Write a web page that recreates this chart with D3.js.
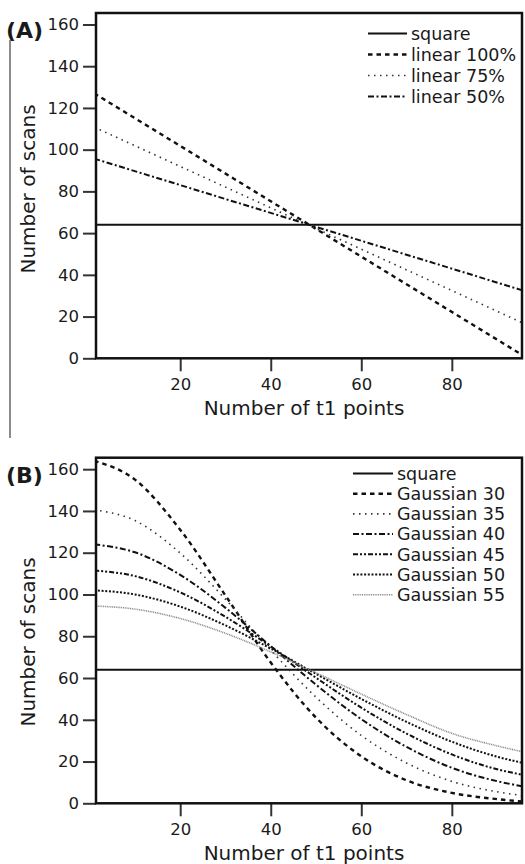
<!DOCTYPE html>
<meta charset="utf-8">
<title>Number of scans vs number of t1 points</title>
<style>

body {
  margin: 0;
  background: #fff;
}

text {
  font-family: "DejaVu Sans", sans-serif;
  fill: #1a1a1a;
}

.frame {
  fill: none;
  stroke: #111;
  stroke-width: 2.5px;
}

.tick line {
  stroke: #333;
  stroke-width: 2px;
}

.curve {
  fill: none;
}

</style>
<body>
<script src="https://d3js.org/d3.v7.min.js"></script>
<script>

// ---- data ----
var xTicks = [20, 40, 60, 80];
var yTicks = [0, 20, 40, 60, 80, 100, 120, 140, 160];

var squareLevel = 64;

// panel A: linear weightings, value at first and last t1 point
var linX = [1, 96];
var lin100 = [127, 1];
var lin75 = [110.8, 16.6];
var lin50 = [95.7, 32.3];

// panel B: gaussian weightings, sampled along t1
var gX = [1, 10, 20, 30, 40, 50, 60, 70, 80, 90, 96];
var g30 = [164, 155, 131, 99.5, 67.4, 41, 22.5, 11, 5, 2, 0.8];
var g35 = [140.5, 135.4, 119.8, 97.7, 73.4, 50.8, 32.5, 19.3, 10.5, 5.5, 3.6];
var g40 = [124, 120.2, 109.4, 93.6, 75.2, 56.8, 40.3, 27, 17, 10.6, 8];
var g45 = [111.5, 108.8, 101, 89.3, 75.1, 60.1, 45.8, 33.4, 23.4, 16.3, 13.5];
var g50 = [102, 100, 94.2, 85.2, 74.1, 62, 50, 39, 29.5, 22.3, 19.2];
var g55 = [94.5, 93, 88.5, 81.4, 72.5, 62.5, 52.3, 42.5, 33.5, 27.5, 24.5];

var namesA = ["square", "linear 100%", "linear 75%", "linear 50%"];
var namesB = ["square", "Gaussian 30", "Gaussian 35", "Gaussian 40", "Gaussian 45", "Gaussian 50", "Gaussian 55"];

// ---- line looks ----
var st = {
  solid:   {stroke: "#111", width: 2,   dash: null},
  dash:    {stroke: "#111", width: 2.4, dash: "4.5 4"},
  dot:     {stroke: "#333", width: 1.6, dash: "1.5 4.5"},
  dashdot: {stroke: "#111", width: 2,   dash: "6 2.5 2 2.5"},
  dashdd:  {stroke: "#111", width: 2,   dash: "5 2 2 2 2 2"},
  dense:   {stroke: "#111", width: 2,   dash: "2 1.7"},
  grey:    {stroke: "#8a8a8a", width: 1.6, dash: "1 0.8"}
};

var width = 525, height = 864;

var svg = d3.select("body").append("svg")
    .attr("width", width)
    .attr("height", height);

// thin line left of the figure
svg.append("line")
    .attr("x1", 10).attr("x2", 10)
    .attr("y1", 40).attr("y2", 438)
    .attr("stroke", "#666")
    .attr("stroke-width", 1.5);

function pairs(xs, ys) {
  return xs.map(function(x, i) { return [x, ys[i]]; });
}

function draw_panel(p) {
  var x = d3.scaleLinear().domain([1.4, 95.5]).range([96, 522]);
  var y = d3.scaleLinear().domain([0, 165.5]).range([p.bottom, p.top]);

  var g = svg.append("g");

  g.append("clipPath").attr("id", p.id)
    .append("rect")
      .attr("x", 96).attr("y", p.top)
      .attr("width", 426).attr("height", p.bottom - p.top);

  var line = d3.line()
      .x(function(d) { return x(d[0]); })
      .y(function(d) { return y(d[1]); })
      .curve(d3.curveMonotoneX);

  var plot = g.append("g").attr("clip-path", "url(#" + p.id + ")");

  // square reference
  plot.append("path")
      .datum([[x.domain()[0], squareLevel], [x.domain()[1], squareLevel]])
      .attr("class", "curve")
      .attr("d", line)
      .attr("stroke", st.solid.stroke)
      .attr("stroke-width", st.solid.width);

  p.series.forEach(function(s) {
    plot.append("path")
        .datum(pairs(s.xs, s.ys))
        .attr("class", "curve")
        .attr("d", line)
        .attr("stroke", s.look.stroke)
        .attr("stroke-width", s.look.width)
        .attr("stroke-dasharray", s.look.dash);
  });

  // axes
  var ya = g.append("g")
      .attr("transform", "translate(96,0)")
      .call(d3.axisLeft(y).tickValues(yTicks).tickSize(13).tickPadding(4));
  var xa = g.append("g")
      .attr("transform", "translate(0," + p.bottom + ")")
      .call(d3.axisBottom(x).tickValues(xTicks).tickSize(13).tickPadding(7));

  [ya, xa].forEach(function(a) {
    a.select(".domain").remove();
    a.selectAll("text").style("font-size", "16.5px").attr("fill", "#1a1a1a");
  });

  g.append("rect")
      .attr("class", "frame")
      .attr("x", 96).attr("y", p.top)
      .attr("width", 426).attr("height", p.bottom - p.top);

  // titles
  g.append("text")
      .attr("x", 304).attr("y", p.bottom + 57)
      .attr("text-anchor", "middle")
      .style("font-size", "20px")
      .text("Number of t1 points");

  g.append("text")
      .attr("transform", "translate(35," + p.yTitle + ") rotate(-90)")
      .attr("text-anchor", "middle")
      .style("font-size", "20px")
      .text("Number of scans");

  g.append("text")
      .attr("x", 6).attr("y", p.labelY)
      .style("font-size", "22px")
      .style("font-weight", "bold")
      .text(p.label);

  // legend
  var looks = [st.solid].concat(p.series.map(function(s) { return s.look; }));
  var leg = g.selectAll(".leg")
      .data(p.names)
    .enter().append("g")
      .attr("transform", function(d, i) {
        return "translate(0," + (p.legY + i * p.legStep) + ")";
      });

  leg.append("line")
      .attr("x1", p.legX1).attr("x2", p.legX2)
      .attr("stroke", function(d, i) { return looks[i].stroke; })
      .attr("stroke-width", function(d, i) { return looks[i].width; })
      .attr("stroke-dasharray", function(d, i) { return looks[i].dash; });

  leg.append("text")
      .attr("x", p.legX2 + 4)
      .attr("dy", "0.36em")
      .style("font-size", "17.5px")
      .text(function(d) { return d; });
}

draw_panel({
  id: "clipA", top: 13, bottom: 358.3, label: "(A)", labelY: 37.5, yTitle: 189,
  names: namesA, legX1: 368, legX2: 407, legY: 33.5, legStep: 21,
  series: [
    {xs: linX, ys: lin100, look: st.dash},
    {xs: linX, ys: lin75, look: st.dot},
    {xs: linX, ys: lin50, look: st.dashdot}
  ]
});

draw_panel({
  id: "clipB", top: 457.7, bottom: 803.3, label: "(B)", labelY: 482.5, yTitle: 642,
  names: namesB, legX1: 353, legX2: 393, legY: 473.5, legStep: 20.2,
  series: [
    {xs: gX, ys: g30, look: st.dash},
    {xs: gX, ys: g35, look: st.dot},
    {xs: gX, ys: g40, look: st.dashdot},
    {xs: gX, ys: g45, look: st.dashdd},
    {xs: gX, ys: g50, look: st.dense},
    {xs: gX, ys: g55, look: st.grey}
  ]
});

</script>
</body>
